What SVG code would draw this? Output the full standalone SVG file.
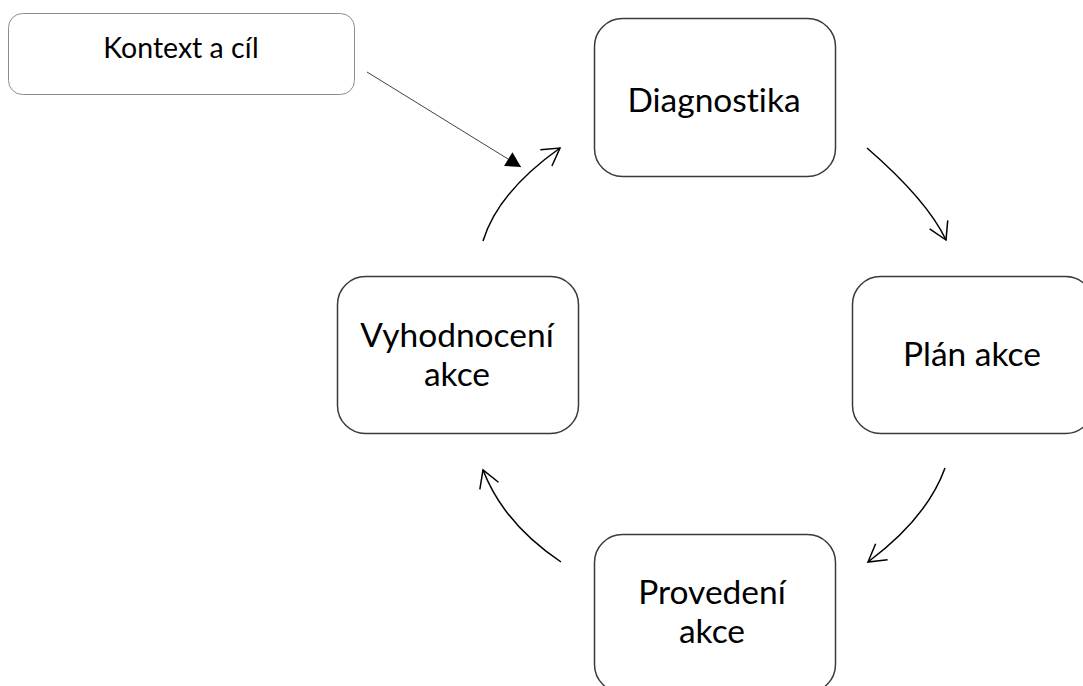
<svg xmlns="http://www.w3.org/2000/svg" width="1083" height="686" viewBox="0 0 1083 686">
  <style>
    .box { fill: #ffffff; stroke: #3a3a3a; stroke-width: 1.5; }
    .note { fill: #ffffff; stroke: #8c8c8c; stroke-width: 1; }
    .label { font-family: Lato, "Open Sans", sans-serif; fill: #000000; text-anchor: middle; font-variant-ligatures: none; }
    .big { font-size: 33.5px; }
    .small { font-size: 28.5px; }
    .cycle { fill: none; stroke: #000000; stroke-width: 1.5; }
    .pointer { fill: none; stroke: #404040; stroke-width: 1; }
  </style>
  <defs>
    <marker id="open" markerUnits="userSpaceOnUse" viewBox="-20 -12 22 24" markerWidth="22" markerHeight="24" refX="0" refY="0" orient="auto">
      <path d="M-17,-10 L0,0 L-17,10" fill="none" stroke="#000000" stroke-width="1.5" stroke-linejoin="miter"/>
    </marker>
    <marker id="solid" markerUnits="userSpaceOnUse" viewBox="-16 -9 17 18" markerWidth="17" markerHeight="18" refX="0" refY="0" orient="auto">
      <path d="M0,0 L-15,-8 L-15,8 Z" fill="#000000"/>
    </marker>
  </defs>

  <rect width="1083" height="686" fill="#ffffff"/>

  <g id="kontext">
    <rect class="note" x="8.5" y="13.5" width="346" height="81" rx="14"/>
    <text class="label small" x="181" y="58">Kontext a cíl</text>
  </g>

  <g id="diagnostika">
    <rect class="box" x="594.5" y="18.5" width="241" height="158" rx="28"/>
    <text class="label big" x="714" y="112">Diagnostika</text>
  </g>

  <g id="plan-akce">
    <rect class="box" x="852.5" y="276.5" width="241" height="157" rx="28"/>
    <text class="label big" x="972" y="366">Plán akce</text>
  </g>

  <g id="provedeni-akce">
    <rect class="box" x="594.5" y="534.5" width="241" height="158" rx="28"/>
    <text class="label big" x="712" y="604">Provedení</text>
    <text class="label big" x="712" y="643">akce</text>
  </g>

  <g id="vyhodnoceni-akce">
    <rect class="box" x="337.5" y="276.5" width="241" height="157" rx="28"/>
    <text class="label big" x="457" y="347">Vyhodnocení</text>
    <text class="label big" x="457" y="386">akce</text>
  </g>

  <g id="connectors">
    <line class="pointer" x1="367" y1="72" x2="521" y2="167" marker-end="url(#solid)"/>
    <path class="cycle" d="M867,148 Q927,200 946,240" marker-end="url(#open)"/>
    <path class="cycle" d="M945,468 Q927,518 868,562" marker-end="url(#open)"/>
    <path class="cycle" d="M561,562 Q504,524 483,470" marker-end="url(#open)"/>
    <path class="cycle" d="M483,241 Q498,192 560,148" marker-end="url(#open)"/>
  </g>
</svg>
